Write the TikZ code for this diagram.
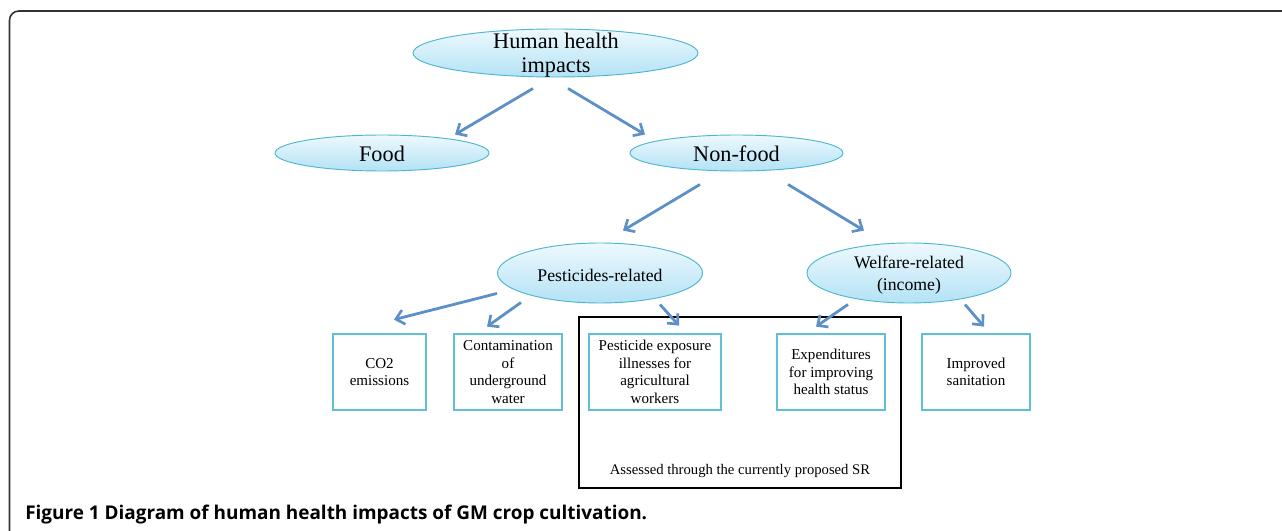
\documentclass[tikz,border=0pt]{standalone}
\usepackage{fontspec}
\setmainfont{Liberation Serif}
\newfontfamily\capfont{Open Sans}
\usetikzlibrary{shapes.geometric,arrows.meta,calc}

\definecolor{ellborder}{HTML}{4DB6D0}
\definecolor{elltop}{HTML}{EEF9FE}
\definecolor{ellbot}{HTML}{B3E2F5}
\definecolor{boxborder}{HTML}{5EBFD7}
\definecolor{arrowblue}{HTML}{5E90C8}
\definecolor{framegray}{HTML}{333333}

\tikzset{
  bubble/.style={ellipse, draw=ellborder, line width=0.7pt,
    top color=elltop, bottom color=ellbot, inner sep=0pt},
  leafbox/.style={rectangle, draw=boxborder, line width=2.1pt, fill=white,
    align=center, inner sep=0pt, minimum height=76*0.75pt,
    font=\fontsize{11.3}{13.2}\selectfont},
  bigtext/.style={align=center, font=\fontsize{16.7}{18}\selectfont},
  midtext/.style={align=center, font=\fontsize{13.3}{16}\selectfont},
  flow/.style={draw=arrowblue, line width=2.1pt,
    -{Straight Barb[length=6pt,width=11pt,line width=2pt]}},
}

\begin{document}
\begin{tikzpicture}[x=0.75pt,y=-0.75pt]
  \useasboundingbox (0,0) rectangle (1282,531);
  \clip (0,0) rectangle (1282,531);

  % outer frame, open to the right and bottom
  \draw[framegray, line width=1.2pt, rounded corners=7pt]
    (9.5,560) -- (9.5,11) -- (1300,11);

  % ellipses
  \node[bubble, minimum width=285*0.75pt, minimum height=48*0.75pt] (hh) at (555.5,53) {};
  \node[bigtext] (hhtext) at (556,55) {Human health\\impacts};
  \node[bubble, minimum width=214*0.75pt, minimum height=36*0.75pt] (food) at (382,153) {};
  \node[bigtext] (foodtext) at (382,153.5) {Food};
  \node[bubble, minimum width=213*0.75pt, minimum height=36*0.75pt] (nf) at (736.5,153) {};
  \node[bigtext] (nftext) at (736.5,153.5) {Non-food};
  \node[bubble, minimum width=205*0.75pt, minimum height=60*0.75pt] (pr) at (600,273) {};
  \node[midtext] (prtext) at (600,275) {Pesticides-related};
  \node[bubble, minimum width=204*0.75pt, minimum height=60*0.75pt] (wr) at (909,273) {};
  \node[midtext] (wrtext) at (909,275) {Welfare-related\\(income)};

  % assessed group
  \node[draw=black, line width=2.2pt, minimum width=322*0.75pt, minimum height=171*0.75pt,
        inner sep=0pt] (sr) at (740,402.5) {};
  \node[font=\fontsize{11}{13}\selectfont] (srtext) at (740,471) {Assessed through the currently proposed SR};

  % leaf boxes
  \node[leafbox, minimum width=93*0.75pt]  (co2)  at (379.5,372) {CO2\\emissions};
  \node[leafbox, minimum width=108*0.75pt] (cont) at (508,372) {Contamination\\of\\underground\\water};
  \node[leafbox, minimum width=132*0.75pt] (pe)   at (655,372) {Pesticide exposure\\illnesses for\\agricultural\\workers};
  \node[leafbox, minimum width=108*0.75pt] (ex)   at (831,372) {Expenditures\\for improving\\health status};
  \node[leafbox, minimum width=108*0.75pt] (is)   at (976,372) {Improved\\sanitation};

  % arrows
  \draw[flow] ($(hh.south)+(-22.5,11)$) -- ($(food.north)+(73,0)$);
  \draw[flow] ($(hh.south)+(12.5,11)$) -- ($(nf.north)+(-91.5,0)$);
  \draw[flow] ($(nf.south)+(-36.5,13)$) -- ($(pr.north)+(23,-12)$);
  \draw[flow] ($(nf.south)+(51.5,13)$) -- ($(wr.north)+(-45,-12)$);
  \draw[flow] ($(pr.south)+(-103,-10)$) -- ($(co2.north)+(14.5,-13)$);
  \draw[flow] ($(pr.south)+(-79,-1)$) -- ($(cont.north)+(-21,-6)$);
  \draw[flow] ($(pr.south)+(60,1)$) -- ($(pe.north)+(24,-7)$);
  \draw[flow] ($(wr.south)+(-61,1)$) -- ($(ex.north)+(-15,-6)$);
  \draw[flow] ($(wr.south)+(56,1)$) -- ($(is.north)+(8,-6)$);

  % caption
  \node[anchor=west, inner sep=0pt, font=\capfont\bfseries\fontsize{14.2}{16}\selectfont] (cap) at (25,515)
    {Figure 1 Diagram of human health impacts of GM crop cultivation.};
\end{tikzpicture}
\end{document}
